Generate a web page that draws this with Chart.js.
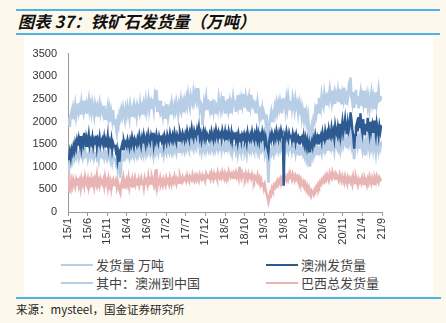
<!DOCTYPE html>
<html>
<head>
<meta charset="utf-8">
<script src="https://cdn.jsdelivr.net/npm/chart.js@4"></script>
<style>
  html, body { margin: 0; padding: 0; }
  body { width: 446px; height: 323px; background: #fdf8ec; position: relative; overflow: hidden; font-family: "Liberation Sans", Arial, sans-serif; }
  .bar { position: absolute; height: 2px; background: #4eb2e6; }
  #panel { position: absolute; left: 24px; top: 36px; width: 409px; height: 260px; background: #ffffff; }
  #title { position: absolute; left: 17px; top: 11px; font-family: "Noto Sans CJK SC", sans-serif; font-weight: bold; font-size: 16.5px; color: #111; line-height: 20px; white-space: nowrap; transform: skewX(-14deg); transform-origin: left bottom; }
  #cv { position: absolute; left: 24px; top: 36px; }
  .lg { position: absolute; font-family: "Noto Sans CJK SC", sans-serif; font-size: 13px; color: #444; line-height: 16px; white-space: nowrap; }
  .lg i { display: inline-block; width: 32px; height: 2px; vertical-align: middle; margin-right: 3px; position: relative; top: -1px; }
  #src { position: absolute; left: 16px; top: 301px; font-family: "Noto Sans CJK SC", sans-serif; font-size: 11.5px; color: #222; white-space: nowrap; }
</style>
</head>
<body>
<div class="bar" style="left:16px;top:9px;width:424px;"></div>
<div class="bar" style="left:16px;top:33px;width:424px;"></div>
<div id="panel"></div>
<div id="title">图表 37：铁矿石发货量（万吨）</div>
<canvas id="cv" width="409" height="216"></canvas>
<div id="legend"></div>
<div class="bar" style="left:16px;top:297px;width:425px;"></div>
<div id="src">来源：mysteel，国金证券研究所</div>
<script>
// Weekly data, first week of Jan 2015 through early Sep 2021 (万吨)
const seriesNames = ["发货量 万吨", "澳洲发货量", "其中：澳洲到中国", "巴西总发货量"];

const totalShip = [
 1950,2080,1880,2150,2230,2050,2290,2180,2350,2120,2270,2400,2210,
 2310,2150,2420,2280,2190,2460,2300,2380,2170,2350,2480,2240,2360,
 2200,2410,2290,2140,2370,2250,2330,2100,2280,2400,2190,2310,2230,
 2150,2350,2060,2280,2170,2320,2080,2240,1990,2180,2030,2250,1950,
 2050,1880,1750,2010,1920,2160,2080,2250,2130,2300,2180,2050,2270,
 2150,2330,2210,2080,2360,2240,2130,2310,2390,2200,2280,2120,2350,
 2260,2180,2400,2240,2320,2150,2380,2270,2440,2210,2330,2480,2250,
 2390,2300,2460,2420,2260,2510,2350,2700,2210,2380,2290,2460,2200,
 2250,2120,2340,2060,2280,2190,2380,2100,2230,2310,2150,2400,2270,
 2180,2350,2240,2420,2290,2150,2390,2310,2470,2260,2380,2200,2440,
 2330,2500,2360,2580,2420,2310,2560,2450,2380,2620,2470,2620,2510,
 2740,2480,2560,2290,2420,2380,1920,2150,2450,2370,2530,2280,2490,
 2380,2260,2450,2150,2340,2220,2480,2310,2190,2420,2280,2510,2350,
 2240,2460,2330,2560,2380,2200,2450,2320,2500,2270,2410,2180,2390,
 2300,2520,2360,2470,2210,2400,2580,2340,2450,2260,2490,2370,2610,
 2420,2310,2530,2380,2460,2220,2500,2350,2590,2410,2300,2480,2290,
 2350,2180,2420,2260,2100,2330,2150,2280,2050,2200,2120,1980,2150,
 1850,1520,1900,2080,2200,2010,2260,2140,2310,2180,2380,2240,2400,
 2290,2450,2330,2180,2510,2360,2420,2250,2480,2310,2540,2380,2270,
 2460,2300,2520,2390,2250,2480,2340,2410,2200,2370,2150,2310,2090,
 2250,2100,2300,2050,2180,1950,2100,1850,1450,1750,1900,1800,2050,
 2000,2250,2150,2380,2200,2520,2380,2280,2560,2410,2330,2600,2450,
 2520,2380,2640,2490,2700,2550,2420,2680,2510,2620,2390,2580,2470,
 2650,2430,2720,2560,2380,2610,2490,2750,2520,2400,2680,2540,2760,
 2680,2970,2560,2420,2650,2300,2510,2700,2380,2560,2290,2480,2620,
 2350,2540,2410,2680,2300,2470,2590,2360,2510,2280,2450,2620,2400,
 2530,2300,2480,2650,2390,2540,2700,2460,2480,2560
];

const auShip = [
 1250,1150,1320,1200,1380,1300,1450,1350,1520,1420,1580,1470,1620,
 1500,1680,1420,1570,1490,1750,1530,1460,1620,1540,1700,1480,1590,
 1520,1650,1460,1580,1510,1690,1440,1600,1530,1660,1480,1570,1620,
 1500,1640,1450,1580,1520,1680,1430,1560,1490,1610,1380,1520,1450,
 1480,1350,1420,1150,1280,1110,1350,1420,1500,1390,1560,1470,1530,
 1460,1600,1510,1420,1580,1490,1650,1530,1440,1610,1550,1480,1620,
 1540,1690,1570,1460,1630,1520,1700,1590,1480,1650,1560,1720,1600,
 1530,1680,1580,1750,1490,1640,1560,1710,1600,1520,1670,1580,1690,
 1570,1640,1500,1680,1590,1520,1700,1610,1550,1730,1620,1560,1690,
 1600,1750,1630,1540,1710,1650,1580,1760,1670,1600,1740,1660,1580,
 1720,1640,1790,1680,1610,1770,1700,1850,1690,1620,1800,1730,1660,
 1810,1700,1860,1650,1740,1580,1700,1790,1640,1750,1620,1720,1660,
 1600,1720,1640,1780,1670,1590,1740,1650,1810,1690,1620,1760,1680,
 1730,1620,1800,1700,1640,1770,1590,1720,1650,1790,1680,1600,1750,
 1570,1700,1630,1760,1590,1680,1540,1720,1610,1660,1550,1700,1640,
 1720,1600,1680,1540,1750,1630,1580,1700,1620,1770,1650,1590,1730,
 1650,1780,1600,1720,1560,1690,1620,1750,1580,1700,1520,1640,1480,
 1400,1300,1580,1690,1600,1740,1650,1580,1720,1630,1790,1680,1600,
 1750,1660,1800,1690,1620,580,1700,1640,1780,1660,1590,1740,1650,
 1700,1580,1730,1620,1680,1540,1700,1600,1650,1520,1680,1580,1640,
 1550,1680,1500,1620,1450,1580,1420,1520,1320,1480,1560,1450,1620,
 1540,1700,1580,1650,1520,1720,1600,1680,1560,1750,1630,1580,1780,
 1660,1740,1600,1820,1700,1650,1860,1720,1800,1640,1900,1760,1700,
 1880,1750,1950,1680,1820,1990,1760,1880,2050,1850,1720,1960,1800,
 1900,2200,2050,1820,1680,1400,1700,1880,1960,1780,2100,1850,2180,
 1900,1760,2050,1820,1700,1950,1780,2080,1860,1720,1990,1800,1920,
 1750,2020,1860,1700,1960,1830,1680,1900,1780,1920
];

const auToChina = [
 1000,920,1100,1050,1200,1120,1250,1180,1300,1220,1350,1260,1190,
 1290,1370,1240,1180,1320,1260,1400,1230,1310,1170,1280,1350,1220,
 1300,1240,1380,1190,1270,1330,1210,1290,1160,1340,1250,1300,1230,
 1280,1200,1350,1240,1170,1310,1220,1280,1150,1260,1100,1230,1180,
 1200,1080,1150,950,1050,900,750,1100,1220,1150,1290,1210,1300,
 1240,1350,1270,1190,1330,1260,1400,1280,1210,1360,1300,1230,1380,
 1290,1420,1310,1240,1380,1300,1450,1330,1260,1400,1320,1470,1350,
 1280,1420,1340,1500,1260,1390,1310,1460,1350,1280,1430,1330,1440,
 1320,1400,1270,1430,1350,1290,1450,1360,1310,1480,1370,1300,1440,
 1350,1500,1380,1300,1460,1400,1330,1510,1420,1350,1480,1400,1330,
 1460,1390,1530,1420,1360,1500,1440,1580,1430,1370,1540,1460,1400,
 1540,1440,1580,1390,1480,1320,1440,1530,1380,1490,1360,1460,1400,
 1350,1460,1380,1510,1410,1340,1480,1390,1540,1420,1360,1500,1420,
 1470,1360,1530,1440,1380,1500,1330,1460,1390,1520,1410,1340,1480,
 1310,1440,1370,1500,1330,1420,1280,1460,1350,1400,1290,1440,1380,
 1450,1340,1420,1280,1480,1370,1320,1440,1360,1500,1390,1330,1460,
 1400,1510,1350,1460,1310,1430,1370,1480,1320,1440,1280,1390,1250,
 1150,650,1200,1350,1290,1420,1340,1280,1430,1360,1500,1400,1330,
 1470,1390,1520,1410,1350,1480,1420,1360,1510,1400,1330,1470,1380,
 1440,1330,1460,1370,1410,1290,1450,1350,1400,1270,1420,1330,1380,
 1300,1420,1260,1370,1200,1330,1150,1250,1000,1200,1310,1220,1380,
 1300,1450,1340,1400,1280,1460,1350,1420,1310,1490,1380,1330,1510,
 1400,1480,1350,1550,1430,1380,1580,1450,1520,1370,1600,1470,1420,
 1560,1440,1620,1380,1500,1650,1460,1540,1680,1520,1410,1590,1480,
 1560,1700,1480,1600,1350,1170,1420,1550,1620,1450,1580,1400,1650,
 1500,1380,1600,1470,1250,1530,1420,1620,1480,1360,1550,1440,1580,
 1400,1600,1460,1300,1550,1480,1350,1520,1430,1560
];

const brazilShip = [
 850,420,600,520,680,580,720,640,560,700,610,750,590,
 680,540,720,620,690,580,760,650,600,710,560,680,620,
 740,630,690,560,720,650,800,610,680,590,730,660,620,
 700,580,760,640,690,550,720,600,680,520,650,710,600,
 640,700,560,680,600,480,420,600,680,550,720,630,580,
 700,620,750,560,680,630,720,540,690,760,610,680,640,
 720,590,680,750,620,700,560,740,660,700,610,780,650,
 700,630,760,680,600,760,650,950,580,700,660,750,620,
 680,600,720,650,590,740,660,700,620,760,680,640,720,
 660,780,690,620,740,700,650,780,700,660,760,690,720,
 760,690,800,720,680,780,730,700,820,740,690,790,720,
 800,740,700,820,760,720,810,750,780,700,830,760,790,
 760,820,740,860,780,720,840,770,810,740,870,790,750,
 830,770,880,800,740,850,780,820,760,890,810,770,840,
 790,850,760,820,880,780,830,750,1000,800,740,860,790,
 820,760,850,780,720,840,770,800,740,830,760,700,790,
 750,700,800,680,740,620,700,580,650,520,600,480,400,
 330,220,300,420,380,520,470,580,540,620,580,680,620,
 700,650,740,690,760,710,800,730,690,780,720,820,750,
 790,720,830,760,700,800,740,780,690,750,660,720,640,
 600,660,560,620,500,560,450,520,400,350,460,420,380,
 480,440,540,500,600,560,650,610,700,660,740,690,780,
 720,820,760,700,850,780,740,880,800,760,830,740,800,
 760,700,820,740,680,790,720,650,780,700,640,760,690,
 740,660,720,620,780,700,640,760,680,600,720,660,700,
 640,760,690,620,740,680,600,720,650,780,700,630,750,
 680,620,740,670,780,700,650,760,720,680
];

// x-axis: months since Jan 2015, labels every 5 months
const xTickStep = 5;
const xMax = 80;
const yTicks = [0, 500, 1000, 1500, 2000, 2500, 3000, 3500];

const colors = ["#b8cee6", "#2d5a91", "#b8cee6", "#e8b4b4"];

function toPoints(arr) {
  return arr.map((v, i) => ({ x: i * 7 / 30.4375, y: v }));
}
function monthLabel(m) {
  const yy = 15 + Math.floor(m / 12);
  const mm = (m % 12) + 1;
  return yy + "/" + mm;
}

const allSeries = [totalShip, auShip, auToChina, brazilShip];
const datasets = allSeries.map((arr, k) => ({
  label: seriesNames[k],
  data: toPoints(arr),
  borderColor: colors[k],
  backgroundColor: colors[k],
  borderWidth: k === 1 ? 2.4 : 2.6,
  pointRadius: 0,
  tension: 0,
  order: k === 1 ? 0 : (k === 3 ? 1 : 2)
}));

new Chart(document.getElementById("cv"), {
  type: "line",
  data: { datasets },
  options: {
    responsive: false,
    animation: false,
    events: [],
    layout: { padding: { left: 0, right: 51, top: 12, bottom: 0 } },
    plugins: { legend: { display: false }, tooltip: { enabled: false } },
    scales: {
      x: {
        type: "linear",
        min: 0,
        max: xMax,
        afterFit: s => { s.height = 40; },
        afterBuildTicks: s => {
          const t = [];
          for (let m = 0; m <= xMax; m += xTickStep) t.push({ value: m });
          s.ticks = t;
        },
        ticks: {
          autoSkip: false,
          maxRotation: 90,
          minRotation: 90,
          padding: 2,
          color: "#333",
          font: { family: "Liberation Sans", size: 11 },
          callback: v => monthLabel(v)
        },
        grid: { display: true, drawOnChartArea: false, drawTicks: true, tickLength: 4, color: "#9a9a9a" },
        border: { display: true, color: "#9a9a9a", width: 1 }
      },
      y: {
        min: 0,
        max: 3500,
        afterFit: s => { s.width = 44; },
        afterBuildTicks: s => { s.ticks = yTicks.map(v => ({ value: v })); },
        ticks: {
          padding: 11,
          color: "#333",
          font: { family: "Liberation Sans", size: 11 },
          callback: v => String(v)
        },
        grid: { display: true, drawOnChartArea: false, drawTicks: false },
        border: { display: true, color: "#9a9a9a", width: 1 }
      }
    }
  }
});

// HTML legend (two columns)
const legendPos = [
  { k: 0, left: 61, top: 257 },
  { k: 1, left: 266, top: 257 },
  { k: 2, left: 61, top: 275 },
  { k: 3, left: 266, top: 275 }
];
const lg = document.getElementById("legend");
legendPos.forEach(p => {
  const d = document.createElement("div");
  d.className = "lg";
  d.style.left = p.left + "px";
  d.style.top = p.top + "px";
  const sw = document.createElement("i");
  sw.style.background = colors[p.k];
  d.appendChild(sw);
  d.appendChild(document.createTextNode(seriesNames[p.k]));
  lg.appendChild(d);
});
</script>
</body>
</html>
